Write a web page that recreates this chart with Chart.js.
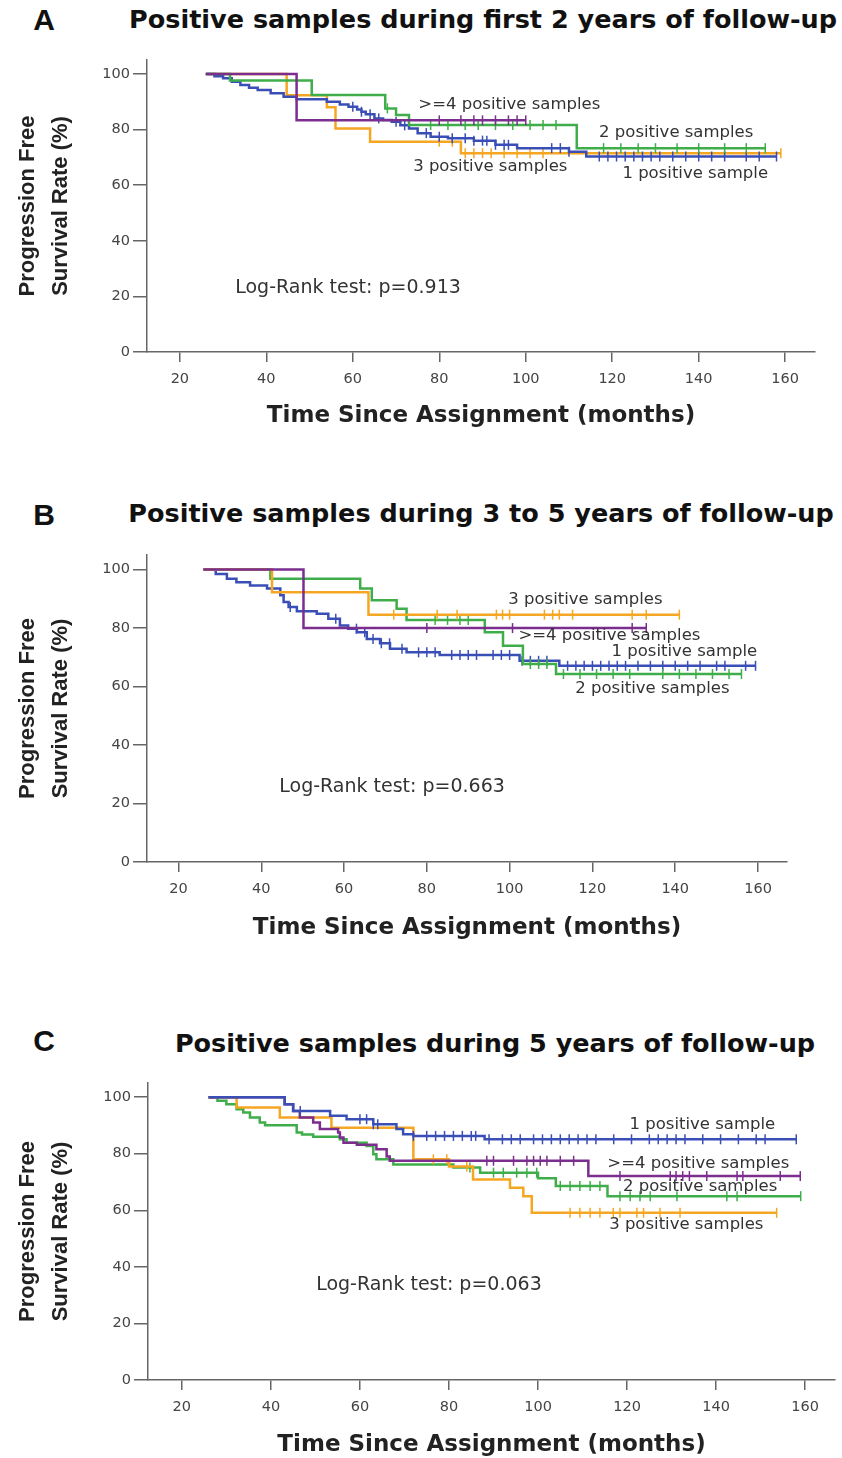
<!DOCTYPE html>
<html lang="en">
<head>
<meta charset="UTF-8">
<title>Progression free survival by positive samples</title>
<style>
  body, html { margin:0; padding:0; background:#fff; }
  #page { position:relative; width:842px; height:1458px; overflow:hidden; }
  canvas { position:absolute; left:0; }
  .lbl { position:absolute; font-weight:bold; color:#111; white-space:nowrap; line-height:1; transform:translate(-50%,-50%); }
  .let { font-family:'Liberation Sans', Arial, sans-serif; font-size:30px; }
  .ttl { font-family:'DejaVu Sans', sans-serif; font-size:25.5px; }
</style>
</head>
<body>
<div id="page">
  <div class="lbl let" style="left:44px;top:20px">A</div>
  <div class="lbl ttl" style="left:483px;top:20px">Positive samples during first 2 years of follow-up</div>
  <div class="lbl let" style="left:44px;top:515px">B</div>
  <div class="lbl ttl" style="left:481px;top:514px">Positive samples during 3 to 5 years of follow-up</div>
  <div class="lbl let" style="left:44px;top:1041px">C</div>
  <div class="lbl ttl" style="left:495px;top:1044px">Positive samples during 5 years of follow-up</div>
  <canvas id="chartA" width="842" height="428" style="top:0px"></canvas>
  <canvas id="chartB" width="842" height="500" style="top:440px"></canvas>
  <canvas id="chartC" width="842" height="507" style="top:950px"></canvas>
</div>

<script src="https://cdn.jsdelivr.net/npm/chart.js"></script>
<script>
// tick labels
const xTicks = [20, 40, 60, 80, 100, 120, 140, 160];
const yTicks = [0, 20, 40, 60, 80, 100];

// --- panel A: first 2 years ---  (T = step times, S = survival %, C = censored times)
const aBlueT = [26, 28, 30, 32, 34, 36, 38, 41, 44, 47, 54, 57, 59, 61, 62, 63, 65, 67, 69, 71, 73, 75, 78, 82, 88, 93, 98, 110, 114, 158];
const aBlueS = [100, 99.2, 98.4, 97.2, 96, 95, 94.2, 93, 91.8, 90.9, 90, 89, 88.2, 87.2, 86.4, 85.5, 84, 83.4, 82.8, 81.5, 80.4, 78.7, 77.4, 76.9, 76, 74.5, 73.3, 72, 70.3, 70.3];
const aBlueC = [60, 62, 64, 66, 70, 72, 77, 80, 83, 86, 88, 90, 91, 93, 95, 96, 106, 108, 110, 117, 119, 121, 123, 125, 127, 129, 131, 134, 137, 140, 143, 146, 151, 154, 158];
const aGreenT = [26, 31.6, 50.5, 67.5, 70, 73, 111.8, 155.4];
const aGreenS = [100, 97.6, 92.4, 87.6, 85.2, 81.6, 73.3, 73.3];
const aGreenC = [68, 78, 82, 86, 89, 93, 97, 101, 104, 107, 118, 122, 126, 130, 135, 140, 146, 151, 155.4];
const aOrangeT = [26, 44.7, 54, 56, 64, 85, 159];
const aOrangeS = [100, 92.3, 88, 80.4, 75.6, 71.5, 71.5];
const aOrangeC = [80, 83, 86, 88, 90, 92, 95, 98, 101, 104, 159];
const aPurpleT = [26, 47, 100];
const aPurpleS = [100, 83.3, 83.3];
const aPurpleC = [80, 85, 88, 90, 93, 96, 98, 100];

// --- panel B: 3 to 5 years ---
const bBlueT = [26, 29, 31.7, 34, 37.3, 41.4, 44.6, 45.4, 46.6, 48.6, 53.4, 56.2, 59, 61, 63.1, 65.5, 68.7, 71.1, 75.1, 83.1, 102.4, 112, 159.4];
const bBlueS = [100, 98.5, 96.9, 95.7, 94.6, 93.5, 91.2, 88.9, 87.2, 85.8, 84.9, 83.2, 80.9, 79.8, 78.6, 76.3, 74.8, 72.9, 71.7, 70.8, 68.8, 67.1, 67.1];
const bBlueC = [47, 58, 63, 65, 67, 69, 71, 74, 78, 80, 82, 86, 88, 90, 92, 96, 98, 100, 103, 105, 107, 109, 114, 116, 118, 120, 122, 124, 126, 128, 131, 134, 137, 140, 143, 146, 150, 152, 157, 159.4];
const bGreenT = [26, 42.2, 63.9, 66.7, 72.7, 75.1, 94, 98.4, 103.2, 111.2, 156];
const bGreenS = [100, 96.9, 93.5, 89.5, 86.6, 82.8, 78.6, 74, 67.7, 64.3, 64.3];
const bGreenC = [82, 85, 88, 90, 105, 107, 109, 113, 117, 121, 125, 129, 137, 141, 145, 149, 153, 156];
const bOrangeT = [26, 42.6, 65.9, 141];
const bOrangeS = [100, 92.3, 84.6, 84.6];
const bOrangeC = [72, 82.5, 87.3, 96.8, 98.3, 100, 108.4, 110.4, 112, 115.2, 129.6, 133, 141];
const bPurpleT = [26, 50.2, 133];
const bPurpleS = [100, 80, 80];
const bPurpleC = [80, 100.7, 129.6, 133];

// --- panel C: 5 years ---
const cBlueT = [26, 43.1, 45, 53.3, 57, 63, 68.2, 69.7, 72, 88, 158];
const cBlueS = [100, 97.5, 95.1, 93.4, 92.2, 90.4, 88.7, 86.9, 86.3, 85.1, 85.1];
const cBlueC = [46.6, 60, 61.5, 63, 64, 72, 75, 77, 79, 81, 83, 85, 86, 89, 92, 94, 96, 99, 101, 103, 105, 107, 109, 111, 113, 117, 121, 125, 127, 129, 131, 133, 137, 141, 145, 149, 151, 158];
const cGreenT = [26, 28, 30, 32.3, 33.8, 35.3, 37.5, 38.7, 45.8, 47, 49.5, 55.5, 57, 61.5, 63, 63.7, 67.5, 81, 87, 100, 104, 115.6, 159];
const cGreenS = [100, 98.7, 97.5, 95.7, 94.6, 92.8, 91, 90.1, 87.5, 86.8, 86, 85.1, 83.9, 82.7, 79.8, 78, 76.2, 75.1, 73.3, 71.3, 68.6, 65, 65];
const cGreenC = [84.7, 90, 92.2, 95.2, 97.5, 99.7, 105, 107.2, 109.4, 111.7, 113.9, 118.4, 120.7, 122.9, 125.2, 131.2, 142.4, 144.7, 159];
const cOrangeT = [26, 32.3, 42, 53.6, 72, 80, 85.4, 93.7, 96.7, 98.6, 153.6];
const cOrangeS = [100, 96.3, 92.8, 89.2, 78, 75.5, 70.9, 68, 65, 59.1, 59.1];
const cOrangeC = [76.5, 79.5, 84, 107.2, 109.4, 111.7, 113.9, 116.9, 118.4, 122.2, 123.7, 127.4, 131.9, 153.6];
const cPurpleT = [26, 43.1, 45, 46.5, 49.5, 51, 55.1, 55.5, 56.3, 59.3, 63.7, 66, 66.7, 111.3, 158.9];
const cPurpleS = [100, 97.5, 95.1, 92.8, 91, 88.7, 87.5, 85.7, 83.9, 83.2, 81.6, 79, 77.5, 72.1, 72.1];
const cPurpleC = [88.5, 90, 94.5, 97.5, 99, 100.5, 102, 105, 108, 118.4, 129.7, 131, 132.5, 134, 137.9, 144.7, 146, 154.4, 158.9];

const COLORS = { blue: '#3a4fb5', green: '#3fae4a', orange: '#f5a623', purple: '#7b2e8e' };

// value of a KM step curve at time t
function stepAt(ts, vs, t) {
  let v = vs[0];
  for (let i = 0; i < ts.length; i++) if (ts[i] <= t) v = vs[i];
  return v;
}

function curveSets(ts, vs, cs, color) {
  return [
    { data: ts.map((t, i) => ({ x: t, y: vs[i] })), showLine: true, stepped: true,
      borderColor: color, borderWidth: 2.5, pointRadius: 0 },
    { data: cs.map(t => ({ x: t, y: stepAt(ts, vs, t) })), showLine: false,
      pointStyle: 'line', rotation: 90, pointRadius: 5, borderColor: color, borderWidth: 1.5 }
  ];
}

const notesPlugin = {
  id: 'notes',
  afterDatasetsDraw(chart, args, opts) {
    const { ctx, scales: { x, y } } = chart;
    ctx.save();
    ctx.fillStyle = '#333';
    ctx.textAlign = 'center';
    ctx.textBaseline = 'middle';
    (opts.items || []).forEach(n => {
      ctx.font = n.size + 'px "DejaVu Sans"';
      ctx.fillText(n.text, x.getPixelForValue(n.at[0]), y.getPixelForValue(n.at[1]));
    });
    ctx.restore();
  }
};

function makePanel(id, sets, notes, box) {
  const axisCol = '#666';
  new Chart(document.getElementById(id), {
    type: 'scatter',
    data: { datasets: sets },
    plugins: [notesPlugin],
    options: {
      responsive: false,
      animation: false,
      layout: { padding: { top: box.top, right: box.right, left: 0, bottom: 0 } },
      plugins: { legend: { display: false }, tooltip: { enabled: false }, notes: { items: notes } },
      scales: {
        x: {
          type: 'linear', min: 12.4, max: box.xmax,
          afterBuildTicks: s => { s.ticks = xTicks.map(v => ({ value: v })); },
          afterFit: s => { s.height = box.xh; },
          grid: { drawOnChartArea: false, drawTicks: true, tickLength: 10, color: axisCol, lineWidth: 1.5 },
          border: { display: true, color: axisCol, width: 1.5 },
          ticks: { color: '#444', padding: 9, font: { family: 'DejaVu Sans', size: 14.5 } },
          title: { display: true, text: 'Time Since Assignment (months)', color: '#222',
                   padding: { top: 0, bottom: 0 },
                   font: { family: 'DejaVu Sans', size: 23, weight: 'bold', lineHeight: 1 } }
        },
        y: {
          min: 0, max: 105,
          afterBuildTicks: s => { s.ticks = yTicks.map(v => ({ value: v })); },
          afterFit: s => { s.width = box.left; },
          grid: { drawOnChartArea: false, drawTicks: true, tickLength: 14, color: axisCol, lineWidth: 1.5 },
          border: { display: true, color: axisCol, width: 1.5 },
          ticks: { color: '#444', padding: 3, font: { family: 'DejaVu Sans', size: 14.5 } },
          title: { display: true, text: ['Progression Free', 'Survival Rate (%)'], color: '#222',
                   padding: { top: 11, bottom: 0 },
                   font: { family: 'Liberation Sans', size: 22, weight: 'bold', lineHeight: '33px' } }
        }
      }
    }
  });
}

makePanel('chartA', [
  ...curveSets(aPurpleT, aPurpleS, aPurpleC, COLORS.purple),
  ...curveSets(aGreenT, aGreenS, aGreenC, COLORS.green),
  ...curveSets(aBlueT, aBlueS, aBlueC, COLORS.blue),
  ...curveSets(aOrangeT, aOrangeS, aOrangeC, COLORS.orange)
], [
  { text: '>=4 positive samples', at: [96.2, 88.8], size: 16.5 },
  { text: '2 positive samples', at: [134.8, 78.8], size: 16.5 },
  { text: '3 positive samples', at: [91.8, 66.5], size: 16.5 },
  { text: '1 positive sample', at: [139.2, 64], size: 16.5 },
  { text: 'Log-Rank test: p=0.913', at: [58.9, 23], size: 19 }
], { top: 60, right: 27, left: 147, xh: 76, xmax: 166.9 });

makePanel('chartB', [
  ...curveSets(bPurpleT, bPurpleS, bPurpleC, COLORS.purple),
  ...curveSets(bOrangeT, bOrangeS, bOrangeC, COLORS.orange),
  ...curveSets(bGreenT, bGreenS, bGreenC, COLORS.green),
  ...curveSets(bBlueT, bBlueS, bBlueC, COLORS.blue)
], [
  { text: '3 positive samples', at: [118.3, 89.7], size: 16.5 },
  { text: '>=4 positive samples', at: [124.1, 77.3], size: 16.5 },
  { text: '1 positive sample', at: [142.2, 71.8], size: 16.5 },
  { text: '2 positive samples', at: [134.5, 59.1], size: 16.5 },
  { text: 'Log-Rank test: p=0.663', at: [71.6, 25.8], size: 19 }
], { top: 115, right: 55, left: 147, xh: 78, xmax: 167 });

makePanel('chartC', [
  ...curveSets(cBlueT, cBlueS, cBlueC, COLORS.blue),
  ...curveSets(cPurpleT, cPurpleS, cPurpleC, COLORS.purple),
  ...curveSets(cOrangeT, cOrangeS, cOrangeC, COLORS.orange),
  ...curveSets(cGreenT, cGreenS, cGreenC, COLORS.green)
], [
  { text: '1 positive sample', at: [136.9, 90.1], size: 16.5 },
  { text: '>=4 positive samples', at: [136, 76.6], size: 16.5 },
  { text: '2 positive samples', at: [136.4, 68.4], size: 16.5 },
  { text: '3 positive samples', at: [133.3, 55], size: 16.5 },
  { text: 'Log-Rank test: p=0.063', at: [75.5, 33.7], size: 19 }
], { top: 133, right: 7, left: 148, xh: 77, xmax: 166.7 });
</script>
</body>
</html>
